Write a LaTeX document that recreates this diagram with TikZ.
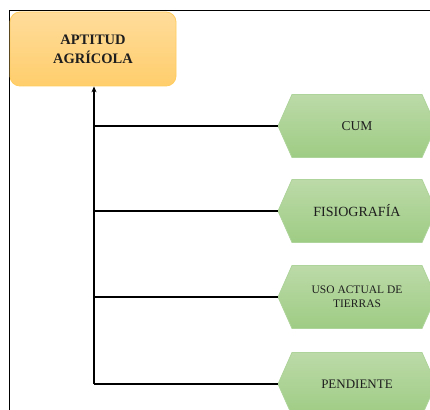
\documentclass[tikz,border=0pt]{standalone}
\usepackage{fontspec}
\setmainfont{Liberation Serif}
\usetikzlibrary{arrows.meta}
\definecolor{orTop}{RGB}{255,220,155}
\definecolor{orBot}{RGB}{255,206,108}
\definecolor{orLine}{RGB}{255,205,95}
\definecolor{grTop}{RGB}{188,218,168}
\definecolor{grBot}{RGB}{158,204,132}
\definecolor{grLine}{RGB}{175,212,155}
\definecolor{txt}{RGB}{30,30,30}
\tikzset{
  mainbox/.style={draw=orLine, line width=0.8pt, rounded corners=10pt,
    top color=orTop, bottom color=orBot, minimum width=166pt, minimum height=74pt,
    align=center, font=\fontsize{14.5}{19}\selectfont\bfseries, text=txt, inner sep=0pt},
  hexfill/.style={draw=grLine, line width=0.8pt, top color=grTop, bottom color=grBot},
  hextext/.style={align=center, text=txt, inner sep=0pt},
  conn/.style={draw=black, line width=1.3pt},
  frame/.style={draw=black, line width=1pt}
}
\begin{document}
\begin{tikzpicture}[x=1pt,y=-1pt]
\useasboundingbox (0,0) rectangle (430,409);
\clip (0,0) rectangle (430,409);
\fill[white] (0,0) rectangle (430,409);
\draw[frame] (9,418) -- (9,11) -- (440,11);
\node[mainbox] (apt) at (93,49) {APTITUD\\AGRÍCOLA};
\foreach \nm/\yy/\tx/\fs in {cum/126/{CUM}/13.5, fis/211/{FISIOGRAFÍA}/14, uso/297/{USO ACTUAL DE\\TIERRAS}/11.5, pen/384/{PENDIENTE}/13}{
  \shade[hexfill] (278,\yy) -- (292,\yy-31.5) -- (422,\yy-31.5) -- (436,\yy) -- (422,\yy+31.5) -- (292,\yy+31.5) -- cycle;
  \coordinate (\nm tip) at (278,\yy);
  \node[hextext, font=\fontsize{\fs}{14}\selectfont] (\nm) at (357,\yy) {\tx};
}
\coordinate (tb) at (94,384);
\draw[conn, -{Stealth[length=6pt,width=5pt]}] (tb) -- (tb |- apt.south);
\draw[conn] (tb |- cumtip) -- (cumtip);
\draw[conn] (tb |- fistip) -- (fistip);
\draw[conn] (tb |- usotip) -- (usotip);
\draw[conn] (tb) -- (pentip);
\end{tikzpicture}
\end{document}
